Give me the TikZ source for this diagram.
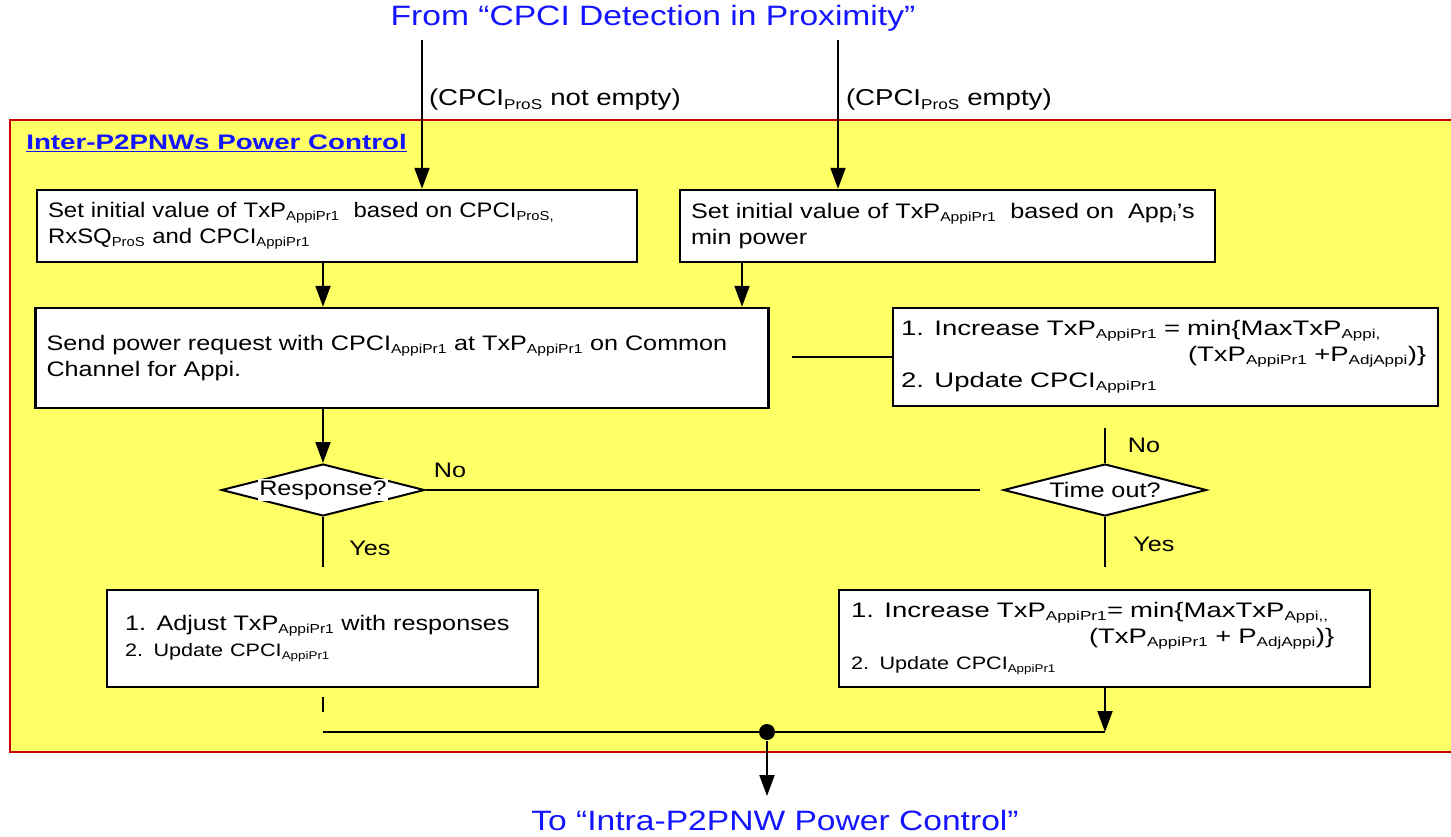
\documentclass[tikz,border=0pt]{standalone}
\usepackage{fontspec}
\setmainfont{Liberation Sans}[FakeStretch=1.2]
\newfontfamily\slimfont{Liberation Sans}[FakeStretch=1.14]
\newfontfamily\widefont{Liberation Sans}[FakeStretch=1.31]
\newfontfamily\headfont{Liberation Sans}[FakeStretch=1.32]
\usetikzlibrary{shapes.geometric,arrows.meta}

\definecolor{panel}{RGB}{255,255,102}
\definecolor{rim}{RGB}{204,0,0}
\definecolor{linkblue}{RGB}{20,20,255}
\renewcommand{\defaultscriptratio}{.62}
\newcommand{\sbs}[1]{\textsubscript{#1}}
\newcommand{\bodysize}{\fontsize{21}{26}\selectfont}
\newcommand{\smallsize}{\fontsize{18}{22}\selectfont}
\newcommand{\labelsize}{\fontsize{23}{28}\selectfont}
\newcommand{\titlesize}{\fontsize{28}{34}\selectfont}

\begin{document}
\begin{tikzpicture}[x=1pt,y=-1pt,>={Triangle[length=21pt,width=15pt]},line width=2pt,
	box/.style={draw,line width=2.5pt,fill=white,align=left,inner xsep=11pt,inner ysep=0pt,font=\bodysize},
	decide/.style={diamond,draw,line width=2pt,fill=white,aspect=4,inner sep=0pt,minimum width=203pt,minimum height=52pt},
	tag/.style={font=\bodysize,inner sep=0pt}]
	
	\useasboundingbox (0,0) rectangle (1451,836);
	\fill[panel] (10,120) rectangle (1451,752);
	\draw[rim] (1451,120) -- (10,120) -- (10,752) -- (1451,752);
	
	\node[text=linkblue,font=\titlesize] (from) at (653,18) {From “CPCI Detection in Proximity”};
	\node[text=linkblue,font=\titlesize] (to) at (775,820) {To “Intra-P2PNW Power Control”};
	\node[anchor=west,text=linkblue,font=\headfont\bodysize\bfseries] (head) at (22,143) {\underline{Inter-P2PNWs Power Control}};
	
	\node[box,font=\slimfont\bodysize,text width=578pt,minimum height=72pt] (setA) at (337,226) {Set initial value of TxP\sbs{AppiPr1}~ based on CPCI\sbs{ProS,}\\RxSQ\sbs{ProS} and CPCI\sbs{AppiPr1}};
	\node[box,text width=513pt,minimum height=72pt] (setB) at (947.5,226) {Set initial value of TxP\sbs{AppiPr1}~ based on~ App\sbs{i}’s\\min power};
	\node[box,text width=711pt,minimum height=100pt] (send) at (402,358) {Send power request with CPCI\sbs{AppiPr1} at TxP\sbs{AppiPr1} on Common\\Channel for Appi.};
	\node[box,font=\widefont\bodysize,inner xsep=8pt,text width=529pt,minimum height=98pt] (incA) at (1165.5,357) {1. Increase TxP\sbs{AppiPr1} = min\{MaxTxP\sbs{Appi,}\\\hspace*{287pt}(TxP\sbs{AppiPr1} +P\sbs{AdjAppi})\}\\2. Update CPCI\sbs{AppiPr1}};
	
	\node[decide,label={[tag,fill=white,inner sep=1pt]center:Response?}] (resp) at (323,490) {};
	\node[decide,label={[tag,fill=white,inner sep=1pt]center:Time out?}] (tout) at (1105,490) {};
	
	\node[box,inner xsep=18pt,text width=395pt,minimum height=97pt] (adj) at (322.5,638.5) {1. Adjust TxP\sbs{AppiPr1} with responses\\{\smallsize 2. Update CPCI\sbs{AppiPr1}}};
	\node[box,font=\widefont\bodysize,inner xsep=12pt,text width=507pt,minimum height=97pt] (incB) at (1104.5,638.5) {1. Increase TxP\sbs{AppiPr1}= min\{MaxTxP\sbs{Appi,,}\\\hspace*{238pt}(TxP\sbs{AppiPr1} + P\sbs{AdjAppi})\}\\{\normalfont\smallsize 2. Update CPCI\sbs{AppiPr1}}};
	
	\node[circle,fill,inner sep=0pt,minimum size=16pt] (join) at (767,732) {};
	
	\node[tag,font=\labelsize,anchor=west] (condA) at (428,100) {(CPCI\sbs{ProS} not empty)};
	\node[tag,font=\labelsize,anchor=west] (condB) at (845,100) {(CPCI\sbs{ProS} empty)};
	\node[tag] (noA) at (450,470) {No};
	\node[tag] (noB) at (1144,445) {No};
	\node[tag] (yesA) at (370,548) {Yes};
	\node[tag] (yesB) at (1154,544) {Yes};
	
	\coordinate (inA) at (422,40);
	\coordinate (inB) at (838,40);
	\coordinate (colM) at (742,0);
	\coordinate (loopA) at (792,357);
	\coordinate (loopB) at (980,490);
	\coordinate (loopC) at (1105,428);
	\coordinate (endA) at (323,567);
	\coordinate (endB) at (1105,567);
	\coordinate (stubA) at (323,697);
	\coordinate (stubB) at (323,712);
	\coordinate (mergeL) at (323,732);
	\coordinate (mergeR) at (1105,732);
	\coordinate (out) at (767,796);
	
	\draw[->] (inA) -- (inA |- setA.north);
	\draw[->] (inB) -- (inB |- setB.north);
	\draw[->] (setA.south -| resp) -- (send.north -| resp);
	\draw[->] (setB.south -| colM) -- (send.north -| colM);
	\draw[->] (send.south -| resp) -- (resp.north);
	\draw (loopA) -- (incA.west);
	\draw (resp.east) -- (loopB);
	\draw (loopC) -- (tout.north);
	\draw (resp.south) -- (endA);
	\draw (tout.south) -- (endB);
	\draw (stubA) -- (stubB);
	\draw[->] (incB.south -| tout) -- (mergeR);
	\draw (mergeL) -- (mergeR);
	\draw[->] (join) -- (out);
\end{tikzpicture}
\end{document}
